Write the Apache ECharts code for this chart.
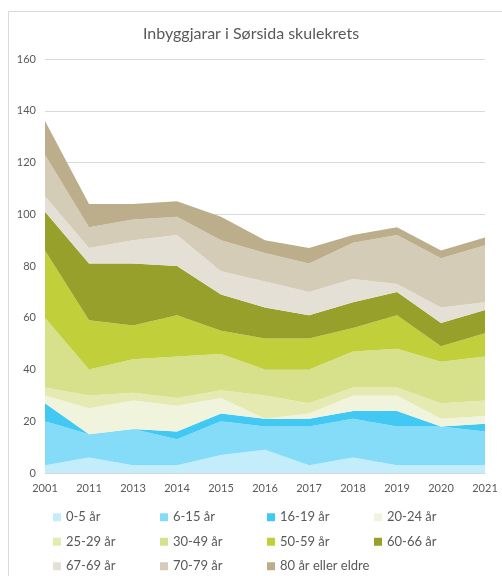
<!DOCTYPE html>
<html>
<head>
<meta charset="utf-8">
<title>Inbyggjarar i Sørsida skulekrets</title>
<script src="https://cdn.jsdelivr.net/npm/echarts@6/dist/echarts.min.js"></script>
<style>
  html, body { margin: 0; padding: 0; background: #fff; }
  #chart { width: 502px; height: 576px; }
</style>
</head>
<body>
<div id="chart"></div>
<script>
var years = ['2001', '2011', '2013', '2014', '2015', '2016', '2017', '2018', '2019', '2020', '2021'];
var groups = ['0-5 år', '6-15 år', '16-19 år', '20-24 år', '25-29 år', '30-49 år',
  '50-59 år', '60-66 år', '67-69 år', '70-79 år', '80 år eller eldre'];

var age0to5   = [3, 6, 3, 3, 7, 9, 3, 6, 3, 3, 3];
var age6to15  = [17, 9, 14, 10, 13, 9, 15, 15, 15, 15, 13];
var age16to19 = [7, 0, 0, 3, 3, 3, 3, 3, 6, 0, 3];
var age20to24 = [3, 10, 11, 10, 6, 0, 2, 6, 6, 3, 3];
var age25to29 = [3, 5, 3, 3, 3, 9, 4, 3, 3, 6, 6];
var age30to49 = [27, 10, 13, 16, 14, 10, 13, 14, 15, 16, 17];
var age50to59 = [26, 19, 13, 16, 9, 12, 12, 9, 13, 6, 9];
var age60to66 = [15, 22, 24, 19, 14, 12, 9, 10, 9, 9, 9];
var age67to69 = [6, 6, 9, 12, 9, 10, 9, 9, 3, 6, 3];
var age70to79 = [16, 8, 8, 7, 12, 11, 11, 14, 19, 19, 22];
var age80plus = [13, 9, 6, 6, 9, 5, 6, 3, 3, 3, 3];

var yTicks = [0, 20, 40, 60, 80, 100, 120, 140, 160];

var values = [age0to5, age6to15, age16to19, age20to24, age25to29, age30to49,
  age50to59, age60to66, age67to69, age70to79, age80plus];
var colors = ['#c4edfc', '#84dcf8', '#42c9f3', '#f1f4dc', '#e5eab3', '#d7e08a',
  '#c0cf3a', '#97a02a', '#e5e0d6', '#d5ccb7', '#bcad8b'];

var chart = echarts.init(document.getElementById('chart'));

var series = [];
for (var i = 0; i < groups.length; i++) {
  series.push({
    name: groups[i],
    type: 'line',
    stack: 'total',
    data: values[i],
    showSymbol: false,
    symbol: 'none',
    lineStyle: { width: 0 },
    areaStyle: { color: colors[i], opacity: 1 },
    itemStyle: { color: colors[i] },
    emphasis: { disabled: true }
  });
}

var font = 'Lato, "Open Sans", sans-serif';

chart.setOption({
  animation: false,
  textStyle: { fontFamily: font },
  graphic: [{
    type: 'rect',
    shape: { x: 8.5, y: 11.5, width: 520, height: 600 },
    style: { fill: 'none', stroke: '#d9d9d9', lineWidth: 1 },
    silent: true
  }],
  title: {
    text: 'Inbyggjarar i Sørsida skulekrets',
    left: 'center',
    top: 21,
    textStyle: { color: '#595959', fontSize: 16, fontWeight: 'normal', fontFamily: font }
  },
  grid: { left: 45, right: 17, top: 59, bottom: 103, containLabel: false },
  xAxis: {
    type: 'category',
    data: years,
    boundaryGap: false,
    axisLine: { lineStyle: { color: '#d9d9d9' } },
    axisTick: { show: false },
    axisLabel: { color: '#595959', fontSize: 11, margin: 10, fontFamily: font }
  },
  yAxis: {
    type: 'value',
    min: yTicks[0],
    max: yTicks[yTicks.length - 1],
    interval: 20,
    axisLine: { show: false },
    axisTick: { show: false },
    splitLine: { lineStyle: { color: '#d9d9d9' } },
    axisLabel: { color: '#595959', fontSize: 11, margin: 9, fontFamily: font }
  },
  legend: {
    data: groups,
    left: 48,
    top: 501,
    width: 440,
    padding: [4, 5],
    itemGap: 0,
    itemWidth: 8,
    itemHeight: 8,
    icon: 'rect',
    textStyle: { color: '#595959', fontSize: 13, width: 94, lineHeight: 24.5, fontFamily: font }
  },
  series: series
});
</script>
</body>
</html>
